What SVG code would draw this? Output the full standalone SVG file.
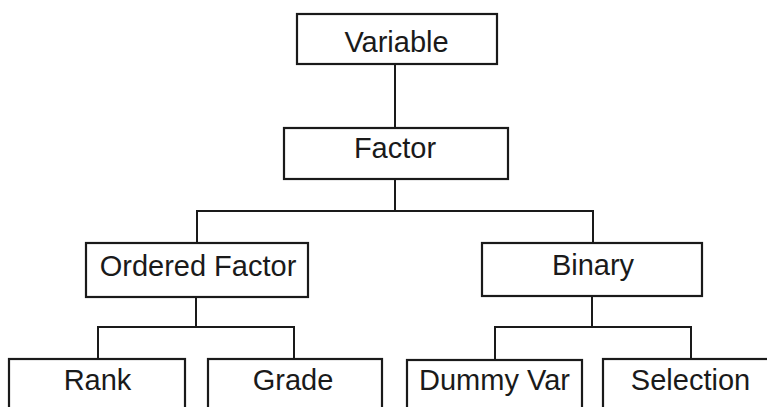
<svg xmlns="http://www.w3.org/2000/svg" width="767" height="407" viewBox="0 0 767 407">
  <style>
    .box { fill: #ffffff; stroke: #1a1a1a; stroke-width: 2.2; }
    .wire { fill: none; stroke: #1a1a1a; stroke-width: 2; }
    .label { font-family: "Liberation Sans", Arial, sans-serif; font-size: 29px; fill: #1a1a1a; text-anchor: middle; }
  </style>
  <rect width="767" height="407" fill="#ffffff"/>

  <!-- tree connectors -->
  <g id="connectors">
    <path class="wire" d="M395 64 V128"/>
    <path class="wire" d="M395 179 V211"/>
    <path class="wire" d="M197 243 V211 H593 V243"/>
    <path class="wire" d="M196 297 V327"/>
    <path class="wire" d="M98 359 V327 H294 V359"/>
    <path class="wire" d="M592 296 V327"/>
    <path class="wire" d="M495 360 V327 H691 V360"/>
  </g>

  <g id="variable">
    <rect class="box" x="297" y="14" width="200" height="50"/>
    <text class="label" x="396.5" y="52">Variable</text>
  </g>

  <g id="factor">
    <rect class="box" x="284" y="128" width="224" height="51"/>
    <text class="label" x="395" y="158">Factor</text>
  </g>

  <g id="ordered-factor">
    <rect class="box" x="86" y="243" width="222" height="54"/>
    <text class="label" x="198" y="276">Ordered Factor</text>
  </g>

  <g id="binary">
    <rect class="box" x="482" y="243" width="220" height="53"/>
    <text class="label" x="593" y="275">Binary</text>
  </g>

  <g id="rank">
    <rect class="box" x="9" y="359" width="176" height="70"/>
    <text class="label" x="97.5" y="390">Rank</text>
  </g>

  <g id="grade">
    <rect class="box" x="208" y="359" width="174" height="70"/>
    <text class="label" x="293" y="390">Grade</text>
  </g>

  <g id="dummy-var">
    <rect class="box" x="407" y="360" width="175" height="70"/>
    <text class="label" x="494.5" y="390">Dummy Var</text>
  </g>

  <g id="selection">
    <rect class="box" x="603" y="359" width="180" height="70"/>
    <text class="label" x="690.5" y="390">Selection</text>
  </g>
</svg>
